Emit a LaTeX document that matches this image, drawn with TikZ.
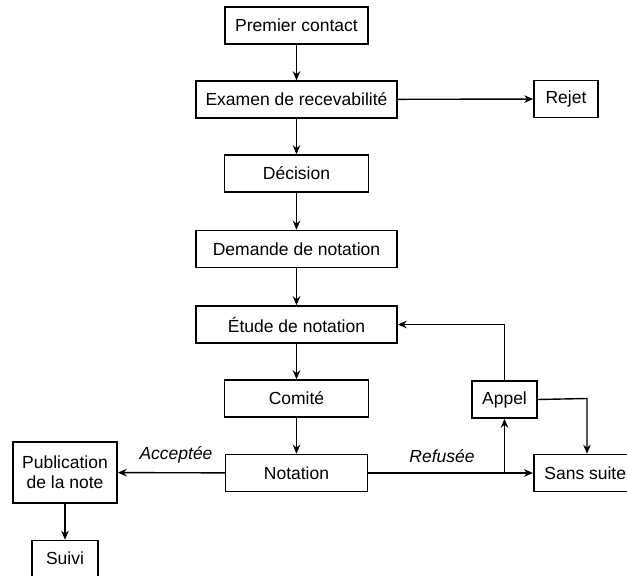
\documentclass[tikz,border=0pt]{standalone}
\usepackage{fontspec}
\setmainfont{Liberation Sans}
\usetikzlibrary{arrows.meta}
\begin{document}
\begin{tikzpicture}[x=1pt,y=-1pt,
  box/.style={draw=black, line width=1.5pt, inner sep=0pt, minimum height=37pt, align=center,
    font=\fontsize{17.5}{20}\selectfont, text=black},
  conn/.style={line width=1.4pt, -{Stealth[length=9pt,width=7.5pt]}},
  lbl/.style={font=\fontsize{17.5}{20}\selectfont\itshape, text=black}]
\useasboundingbox (0,0) rectangle (627,576);
\node[box, minimum width=143pt] (premier) at (296.5,25.5) {Premier contact};
\node[box, minimum width=201pt] (examen) at (296.5,99.5) {Examen de recevabilité};
\node[box, minimum width=64pt] (rejet) at (566,99) {Rejet};
\node[box, minimum width=144pt] (decision) at (296.5,173.5) {Décision};
\node[box, minimum width=201pt] (demande) at (296.5,249) {Demande de notation};
\node[box, minimum width=201pt] (etude) at (296.5,324.5) {Étude de notation};
\node[box, minimum width=144pt] (comite) at (296.5,398.5) {Comité};
\node[box, minimum width=142pt] (notation) at (296.5,473) {Notation};
\node[box, minimum width=65pt] (appel) at (504.5,399.5) {Appel};
\node[box, minimum width=103pt, anchor=west] (sans) at (533,473) {Sans suite};
\node[box, minimum width=104pt, minimum height=61pt] (pub) at (65,472.5) {Publication\\de la note};
\node[box, minimum width=66pt, minimum height=36pt] (suivi) at (65,558.5) {Suivi};
\coordinate (branch) at (504.5,473);
\coordinate (appelR) at (587,398.5);
\draw[conn] (premier) -- (examen);
\draw[conn] (examen) -- (rejet);
\draw[conn] (examen) -- (decision);
\draw[conn] (decision) -- (demande);
\draw[conn] (demande) -- (etude);
\draw[conn] (etude) -- (comite);
\draw[conn] (comite) -- (notation);
\draw[conn] (notation) -- (pub);
\draw[conn] (pub) -- (suivi);
\draw[conn] (notation.east) -- (sans.west);
\draw[conn] (branch) -- (appel.south);
\draw[conn] (appel.north) |- (etude.east);
\draw[conn] (appel.east) -- (appelR) -- (appelR |- sans.north);
\node[lbl] (acc) at (176,455) {Acceptée};
\node[lbl] (ref) at (442,456) {Refusée};
\end{tikzpicture}
\end{document}
